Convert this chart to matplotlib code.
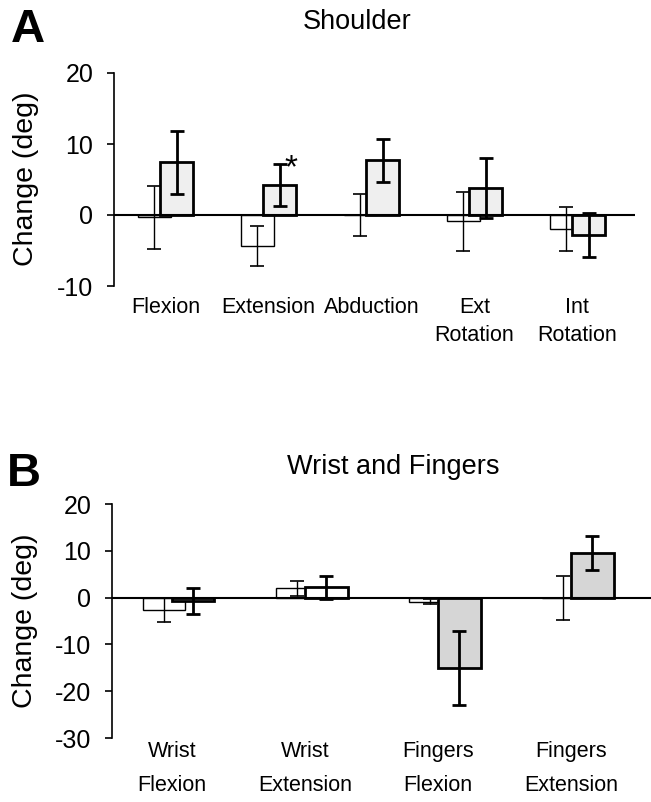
import numpy as np
import matplotlib.pyplot as plt

plt.rcParams['font.family'] = ['Liberation Sans', 'DejaVu Sans']
plt.rcParams['axes.unicode_minus'] = False

# Panel A - shoulder
cats_a = ['Flexion', 'Extension', 'Abduction', 'Ext\nRotation', 'Int\nRotation']
white_a = [-0.3, -4.4, 0.0, -0.85, -2.0]
white_err_a = [4.45, 2.85, 3.0, 4.15, 3.1]
gray_a = [7.4, 4.2, 7.7, 3.8, -2.8]
gray_err_a = [4.4, 2.95, 3.0, 4.2, 3.1]

# Panel B - wrist and fingers
cats_b = ['Wrist\nFlexion', 'Wrist\nExtension', 'Fingers\nFlexion', 'Fingers\nExtension']
white_b = [-2.7, 2.0, -0.9, 0.0]
white_err_b = [2.6, 1.6, 0.5, 4.7]
gray_b = [-0.7, 2.2, -15.1, 9.5]
gray_err_b = [2.75, 2.5, 7.9, 3.7]
gray_fill_b = ['white', 'white', '#d6d6d6', '#d6d6d6']

W = 651
H = 802
fig = plt.figure(figsize=(W / 100, H / 100), dpi=100)


def panel(ax, cats, wm, we, gm, ge, fills, ylim, yticks, xmax, lsp, tickshift, xpad):
    x = np.arange(len(cats))
    off = 0.11
    bw = 0.32
    ax.bar(x - off, wm, bw, color='white', edgecolor='black', linewidth=1, zorder=2)
    ax.errorbar(x - off, wm, yerr=we, fmt='none', ecolor='black', elinewidth=1,
                capsize=5, capthick=1.2, zorder=3)
    ax.bar(x + off, gm, bw, color=fills, edgecolor='black', linewidth=2, zorder=4)
    ax.errorbar(x + off, gm, yerr=ge, fmt='none', ecolor='black', elinewidth=2,
                capsize=5, capthick=2, zorder=5)
    ax.axhline(0, color='black', linewidth=1.5, zorder=6)
    ax.set_xlim(-0.5, xmax)
    ax.set_ylim(*ylim)
    ax.set_yticks(yticks)
    ax.set_xticks(x + tickshift)
    ax.set_xticklabels(cats, linespacing=lsp)
    for s in ['top', 'right', 'bottom']:
        ax.spines[s].set_visible(False)
    ax.spines['left'].set_linewidth(1.2)
    ax.tick_params(axis='y', labelsize=18, length=5, width=1.2, pad=10)
    ax.tick_params(axis='x', labelsize=15.5, length=0, pad=xpad)
    ax.patch.set_alpha(0)


axA = fig.add_axes([114 / W, 1 - 286 / H, (635 - 114) / W, (286 - 73) / H])
panel(axA, cats_a, white_a, white_err_a, gray_a, gray_err_a, '#efefef',
      (-10, 20), [-10, 0, 10, 20], 4.56, 1.45, 0.0, 8)
axA.text(1.22, 6.5, '*', fontsize=24, ha='center', va='center')

axB = fig.add_axes([112 / W, 1 - 738 / H, (651 - 112) / W, (738 - 504) / H])
panel(axB, cats_b, white_b, white_err_b, gray_b, gray_err_b, gray_fill_b,
      (-30, 20), [-30, -20, -10, 0, 10, 20], 3.55, 1.85, -0.05, 2)

fig.text(357 / W, 1 - 22 / H, 'Shoulder', fontsize=19.5, ha='center', va='center')
fig.text(393 / W, 1 - 467 / H, 'Wrist and Fingers', fontsize=19.5, ha='center', va='center')
fig.text(11 / W, 1 - 8 / H, 'A', fontsize=34, fontweight='bold', ha='left', va='top')
fig.text(7 / W, 1 - 452 / H, 'B', fontsize=34, fontweight='bold', ha='left', va='top')
fig.text(26 / W, 1 - 179 / H, 'Change (deg)', fontsize=20.5, rotation=90,
         ha='center', va='center')
fig.text(25 / W, 1 - 621 / H, 'Change (deg)', fontsize=20.5, rotation=90,
         ha='center', va='center')

fig.savefig('out.png', dpi=100)
